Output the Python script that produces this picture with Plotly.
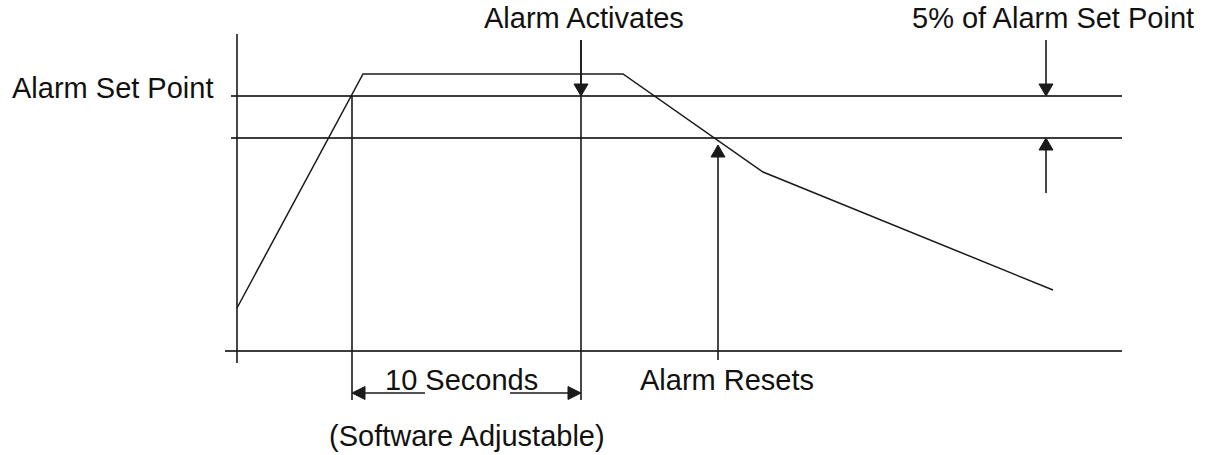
import plotly.graph_objects as go

W, H = 1215, 455

# ---- data (chart units = pixel grid of the drawing) ----
signal_time = [237, 363, 623, 763, 1053]
signal_level = [308, 74, 74, 172, 290]

set_point_level = 96
reset_level = 138
baseline_level = 351

# horizontal reference lines
hline_levels = [set_point_level, reset_level, baseline_level]
hline_starts = [231, 231, 225]
hline_ends = [1122, 1122, 1122]

# vertical lines
vline_x = [237, 352, 581]
vline_top = [34, set_point_level, 40]
vline_bottom = [363, 400, 400]

# vertical arrows: x, line start, tip
arrow_x = [581, 1046, 1046, 718]
arrow_from = [40, 40, 193, 360]
arrow_tip = [set_point_level, set_point_level, reset_level, 145]

# dimension arrows (horizontal)
dim_level = 393
dim_left_tip, dim_left_end = 352, 425
dim_right_start, dim_right_tip = 510, 581

labels = ["Alarm Set Point", "Alarm Activates", "5% of Alarm Set Point",
          "10 Seconds", "Alarm Resets", "(Software Adjustable)"]
label_x = [10, 584, 1196, 461, 727, 467]
label_y = [88, 18, 18, 380, 380, 436]
label_anchor = ["left", "center", "right", "center", "center", "center"]
label_box_h = [None, 30, 30, None, None, None]

LINE = "#1a1a1a"
HLINE = "#3c3c3c"
TEXT = "#111111"
AH_LEN, AH_W = 12, 14

fig = go.Figure()

def seg(xs, ys, color=LINE, width=1.5):
    fig.add_trace(go.Scatter(x=xs, y=ys, mode="lines",
                             line=dict(color=color, width=width),
                             hoverinfo="skip", showlegend=False))

def tri(pts):
    xs = [p[0] for p in pts] + [pts[0][0]]
    ys = [p[1] for p in pts] + [pts[0][1]]
    fig.add_trace(go.Scatter(x=xs, y=ys, mode="lines", fill="toself",
                             fillcolor=LINE, line=dict(color=LINE, width=1),
                             hoverinfo="skip", showlegend=False))

for lv, xs, xe in zip(hline_levels, hline_starts, hline_ends):
    seg([xs, xe], [lv, lv], color=HLINE, width=2)

for x, t, b in zip(vline_x, vline_top, vline_bottom):
    seg([x, x], [t, b], width=1.6)

seg(signal_time, signal_level, width=1.5)

for x, a, tip in zip(arrow_x, arrow_from, arrow_tip):
    d = 1 if tip > a else -1
    seg([x, x], [a, tip - d * AH_LEN], width=1.6)
    tri([(x, tip), (x - AH_W / 2, tip - d * AH_LEN), (x + AH_W / 2, tip - d * AH_LEN)])

seg([dim_left_tip + AH_LEN, dim_left_end], [dim_level, dim_level], width=1.6)
tri([(dim_left_tip, dim_level), (dim_left_tip + AH_LEN + 1, dim_level - AH_W / 2 + 0.5),
     (dim_left_tip + AH_LEN + 1, dim_level + AH_W / 2 - 0.5)])
seg([dim_right_start, dim_right_tip - AH_LEN], [dim_level, dim_level], width=1.6)
tri([(dim_right_tip, dim_level), (dim_right_tip - AH_LEN - 1, dim_level - AH_W / 2 + 0.5),
     (dim_right_tip - AH_LEN - 1, dim_level + AH_W / 2 - 0.5)])

for txt, x, y, anc, bh in zip(labels, label_x, label_y, label_anchor, label_box_h):
    kw = dict(height=bh, valign="middle") if bh else {}
    fig.add_annotation(x=x, y=y, text=txt, showarrow=False, xanchor=anc,
                       yanchor="middle",
                       font=dict(family="Liberation Sans, Arial, sans-serif",
                                 size=29, color=TEXT), **kw)

fig.update_layout(
    width=W, height=H,
    margin=dict(l=0, r=0, t=0, b=0),
    paper_bgcolor="white", plot_bgcolor="white",
    hovermode=False,
    xaxis=dict(range=[0, W], visible=False, fixedrange=True),
    yaxis=dict(range=[H, 0], visible=False, fixedrange=True),
)

fig.write_html(
    "out.html",
    config={"displayModeBar": False, "staticPlot": True},
    post_script="document.body.style.margin='0px';document.body.style.overflow='hidden';",
)
